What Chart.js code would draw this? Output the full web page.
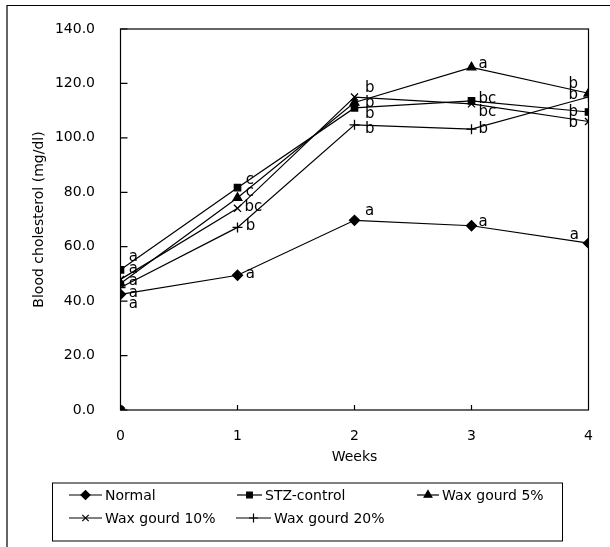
<!DOCTYPE html>
<html><head><meta charset="utf-8">
<script src="https://cdn.jsdelivr.net/npm/chart.js@4.4.1/dist/chart.umd.min.js"></script>
<style>html,body{margin:0;padding:0;background:#fff}#w{position:relative;width:610px;height:547px}</style>
</head><body><div id="w"><canvas id="c" width="610" height="547"></canvas></div>
<script>
const weeks = [0, 1, 2, 3, 4];
const seriesNames = ['Normal', 'STZ-control', 'Wax gourd 5%', 'Wax gourd 10%', 'Wax gourd 20%'];
const normal     = [42.5, 49.5, 69.7, 67.7, 61.3];
const stzControl = [51.5, 81.7, 111.0, 113.6, 109.5];
const wax5       = [46.5, 78.0, 113.0, 125.9, 116.4];
const wax10      = [48.0, 74.1, 115.0, 112.5, 106.0];
const wax20      = [45.0, 67.1, 104.8, 103.2, 115.0];
const originPoint = [0, 0]; // stray marker at (0, 0.0) in the original
const yTickValues = [0, 20, 40, 60, 80, 100, 120, 140];
const xTickValues = [0, 1, 2, 3, 4];
// significance letters: week position, value, text
const letterWeek  = [0.07,0.07,0.07,0.07,0.07, 1.07,1.07,1.06,1.07,1.07, 2.09,2.09,2.09,2.09,2.09, 3.06,3.06,3.06,3.06,3.06, 3.83,3.83,3.83,3.83,3.84];
const letterValue = [56.1,51.8,47.4,43.1,39.0, 84.3,79.9,74.5,67.4,50.0, 118.2,112.7,108.7,103.2,72.9, 127.2,114.2,109.4,103.3,69.2, 119.8,115.8,109.4,105.4,64.1];
const letterText  = ['a','a','a','a','a', 'c','c','bc','b','a', 'b','b','b','b','a', 'a','bc','bc','b','a', 'b','b','b','b','a'];

const FONT = "'DejaVu Sans', 'Liberation Sans', sans-serif";
const styles = ['rectRot', 'rect', 'triangle', 'crossRot', 'cross'];
const radii = [5, 4.5, 5, 5, 5];
const allSeries = [normal, stzControl, wax5, wax10, wax20];

const datasets = allSeries.map((s, i) => ({
  label: seriesNames[i],
  data: weeks.map((w, k) => ({x: w, y: s[k]})),
  borderColor: '#000', backgroundColor: '#000', borderWidth: 1.2,
  pointStyle: styles[i], pointRadius: radii[i], pointBorderWidth: 1.3,
  pointBackgroundColor: '#000', pointBorderColor: '#000', tension: 0
}));
datasets.push({
  label: 'origin', data: [{x: originPoint[0], y: originPoint[1]}],
  showLine: false, pointStyle: 'circle', pointRadius: 4.5,
  pointBackgroundColor: '#000', pointBorderColor: '#000'
});

const decor = {
  id: 'decor',
  beforeDraw(chart) {
    const ctx = chart.ctx;
    ctx.save();
    ctx.strokeStyle = '#000'; ctx.lineWidth = 1.2;
    ctx.beginPath();
    ctx.moveTo(7, 547); ctx.lineTo(7, 5.5); ctx.lineTo(610, 5.5);
    ctx.stroke();
    ctx.restore();
  },
  afterDatasetsDraw(chart) {
    const {ctx, chartArea: a, scales: {x, y}} = chart;
    ctx.save();
    ctx.strokeStyle = '#000'; ctx.lineWidth = 1.2;
    ctx.strokeRect(a.left, a.top, a.right - a.left, a.bottom - a.top);
    ctx.beginPath();
    yTickValues.forEach(v => { const py = y.getPixelForValue(v); ctx.moveTo(a.left, py); ctx.lineTo(a.left + 7, py); });
    xTickValues.slice(1, -1).forEach(v => { const px = x.getPixelForValue(v); ctx.moveTo(px, a.bottom); ctx.lineTo(px, a.bottom - 5); });
    ctx.stroke();
    // letters
    ctx.fillStyle = '#000'; ctx.font = '15px ' + FONT; ctx.textAlign = 'left'; ctx.textBaseline = 'middle';
    letterText.forEach((t, i) => ctx.fillText(t, x.getPixelForValue(letterWeek[i]), y.getPixelForValue(letterValue[i])));
    // legend
    const bx = 52.5, by = 483, bw = 510, bh = 58;
    ctx.lineWidth = 1;
    ctx.strokeRect(bx, by, bw, bh);
    const items = [[0, 69, 105, 0], [1, 237, 265, 0], [2, 417, 442, 0], [3, 69, 105, 1], [4, 236, 274, 1]];
    const rowY = [495, 518];
    ctx.font = '14px ' + FONT;
    items.forEach(([i, lx, tx, r]) => {
      const yy = rowY[r];
      ctx.lineWidth = 1.2;
      ctx.beginPath(); ctx.moveTo(lx, yy); ctx.lineTo(tx - 3, yy); ctx.stroke();
      const mx = (lx + tx - 3) / 2;
      Chart.helpers.drawPoint(ctx, {pointStyle: styles[i], radius: radii[i] - 0.5, borderWidth: 1.3, rotation: 0}, mx, yy);
      ctx.fillText(seriesNames[i], tx, yy + 1);
    });
    ctx.restore();
  }
};

new Chart(document.getElementById('c'), {
  type: 'line',
  data: {datasets},
  options: {
    responsive: false, animation: false, devicePixelRatio: 1,
    layout: {padding: {left: 0, top: 29, right: 21.5, bottom: 77}},
    plugins: {legend: {display: false}, tooltip: {enabled: false}},
    scales: {
      x: {
        type: 'linear', min: 0, max: 4,
        afterFit: s => { s.height = 60; },
        afterBuildTicks: s => { s.ticks = xTickValues.map(v => ({value: v})); },
        ticks: {color: '#000', font: {family: FONT, size: 14}, padding: 10, callback: v => String(v)},
        grid: {display: false}, border: {display: false},
        title: {display: true, text: 'Weeks', color: '#000', font: {family: FONT, size: 14}, padding: {top: 4, bottom: 4}}
      },
      y: {
        min: 0, max: 140,
        afterFit: s => { s.width = 120.5; },
        afterBuildTicks: s => { s.ticks = yTickValues.map(v => ({value: v})); },
        ticks: {color: '#000', font: {family: FONT, size: 14}, padding: 17.5, callback: v => v.toFixed(1)},
        grid: {display: false}, border: {display: false},
        title: {display: true, text: 'Blood cholesterol (mg/dl)', color: '#000', font: {family: FONT, size: 14}, padding: {top: 30.6, bottom: 0}}
      }
    }
  },
  plugins: [decor]
});
</script></body></html>
